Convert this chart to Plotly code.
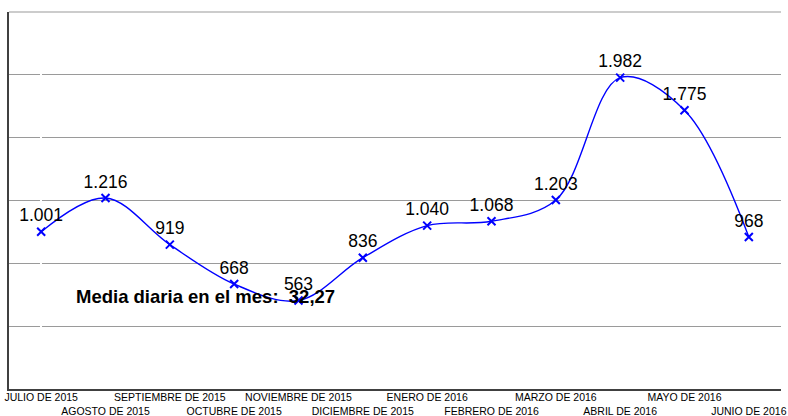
import plotly.graph_objects as go

# monthly values (media diaria)
months = ['JULIO DE 2015', 'AGOSTO DE 2015', 'SEPTIEMBRE DE 2015', 'OCTUBRE DE 2015',
          'NOVIEMBRE DE 2015', 'DICIEMBRE DE 2015', 'ENERO DE 2016', 'FEBRERO DE 2016',
          'MARZO DE 2016', 'ABRIL DE 2016', 'MAYO DE 2016', 'JUNIO DE 2016']
values = [1001, 1216, 919, 668, 563, 836, 1040, 1068, 1203, 1982, 1775, 968]
media_text = 'Media diaria en el mes:  32,27'

idx = list(range(len(months)))
# alternate labels on two rows like the original
ticktext = [m if i % 2 == 0 else '<br>' + m for i, m in enumerate(months)]

fig = go.Figure()
fig.add_trace(go.Scatter(
    x=idx, y=values,
    mode='lines+markers+text',
    line=dict(color='#0000ff', width=1.4, shape='spline', smoothing=1),
    marker=dict(symbol='x-thin', size=8, color='#0000ff', line=dict(width=2, color='#0000ff')),
    texttemplate='%{y:,}',
    textposition='top center',
    textfont=dict(family='Liberation Sans, Arial', size=17.5, color='#000000'),
    showlegend=False,
    cliponaxis=False,
))

fig.add_annotation(x=2.56, y=590, xref='x', yref='y', text='<b>' + media_text + '</b>',
                   showarrow=False, font=dict(family='Liberation Sans, Arial', size=18.5, color='#000000'))

# top gridline (at the edge of the plot area)
fig.add_shape(type='line', xref='paper', yref='paper', x0=0, x1=1, y0=1, y1=1,
              line=dict(color='#9a9a9a', width=1.2))

fig.update_layout(
    width=788, height=416,
    margin=dict(l=9, r=7, t=12, b=27),
    paper_bgcolor='white', plot_bgcolor='white',
    separators=',.',
    font=dict(family='Liberation Sans, Arial', color='#000000'),
)
fig.update_xaxes(range=[-0.5, 11.5], tickvals=idx, ticktext=ticktext, tickangle=0,
                 tickfont=dict(size=10.5, color='#000000'), showgrid=False, automargin=False,
                 ticklabeloverflow='allow', ticklabelstandoff=-2,
                 showline=True, linecolor='#404040', linewidth=1.5, ticks='')
fig.update_yaxes(range=[0, 2400], dtick=400, showticklabels=False, showgrid=True, automargin=False,
                 gridcolor='#9a9a9a', gridwidth=1.2, showline=True, linecolor='#404040',
                 linewidth=1.5, zeroline=False, ticks='')

# remove the default body margin so the figure fills the window
fig.write_html('out.html', config={'displayModeBar': False},
               post_script="document.body.style.margin='0';")
